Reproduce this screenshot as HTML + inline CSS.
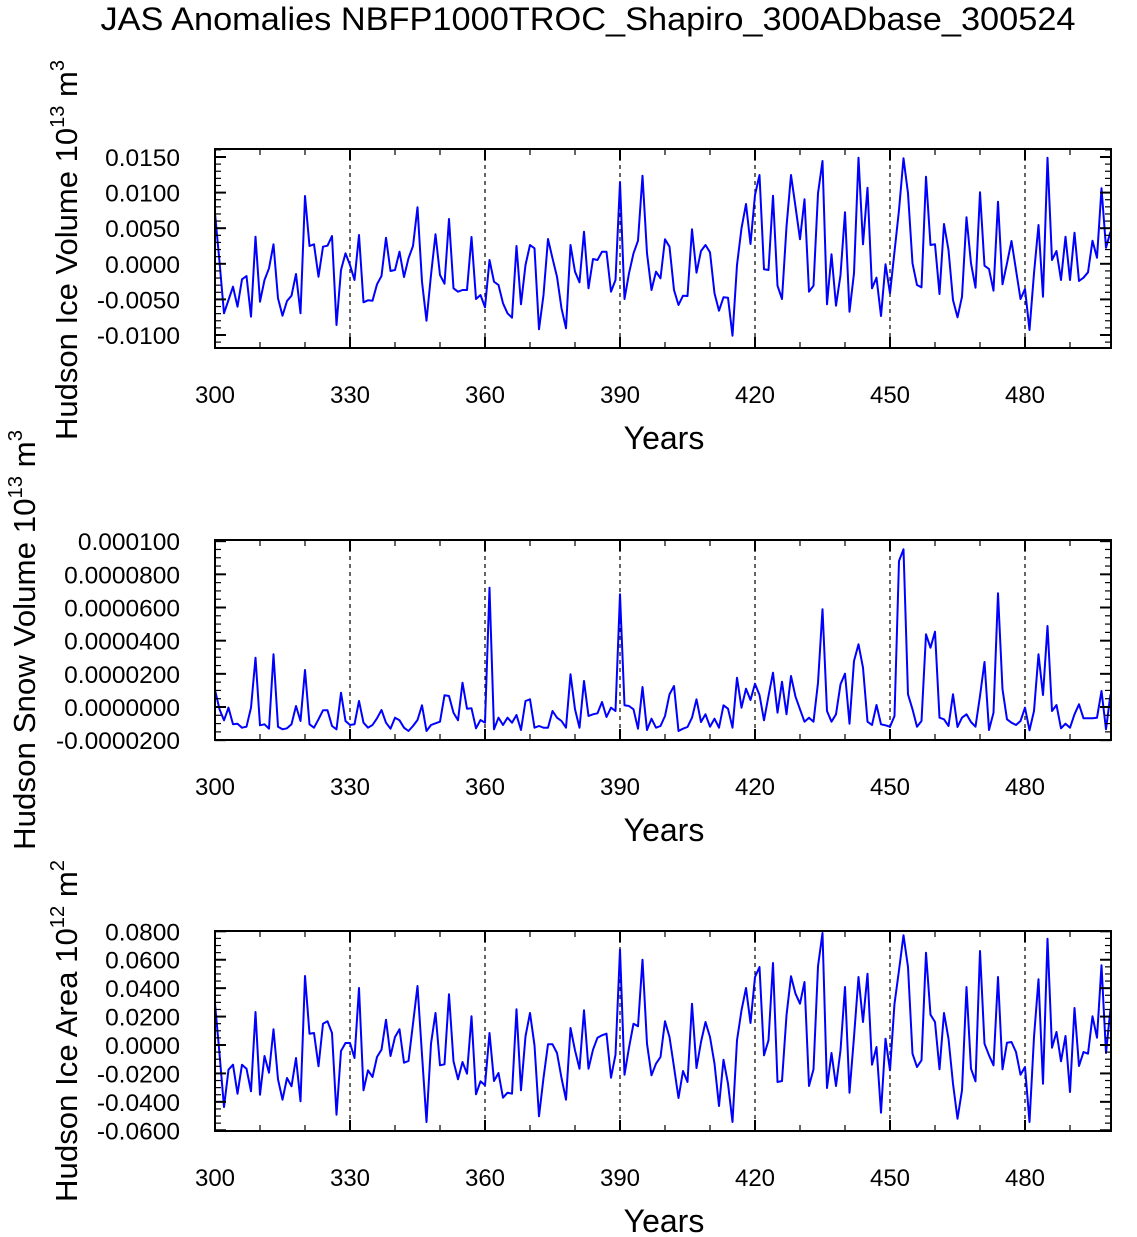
<!DOCTYPE html>
<html><head><meta charset="utf-8"><style>
html,body{margin:0;padding:0;background:#fff;}
svg{display:block;font-family:"Liberation Sans",Helvetica,Arial,sans-serif;}
</style></head><body>
<svg id="s" width="1137" height="1237" xmlns="http://www.w3.org/2000/svg">
<text x="588" y="30" font-size="32" text-anchor="middle" textLength="975" lengthAdjust="spacingAndGlyphs">JAS Anomalies NBFP1000TROC_Shapiro_300ADbase_300524</text>
</svg>
<script>
var NS="http://www.w3.org/2000/svg",S=document.getElementById('s');
function el(t,a,txt){var e=document.createElementNS(NS,t);for(var k in a)e.setAttribute(k,a[k]);if(txt!=null)e.textContent=txt;S.appendChild(e);return e;}
var X0=215,X1=1111;
function xp(y){return X0+(y-300)*4.5;}
var P=[
{top:149,bot:348,oy:145,zero:263.8,ppu:7120,maj:[0.015,0.01,0.005,0,-0.005,-0.01],labs:["0.0150","0.0100","0.0050","0.0000","-0.0050","-0.0100"],minStep:0.001,minLo:-0.012,minHi:0.016,
 title:"Hudson Ice Volume 10",sup:"13",unit:" m",usup:"3",tx:77,tc:250,tl:380,
 a:[205,350,505,465,425,485,403,393,515,275,470,405,370,298,460,512,468,452,387,505,153,303,298,395,305,302,273,540,375,325,360,405,270,472,466,467,418,393,278,378,375,320,396,340,303,187,410,527,390,268,390,416,222,430,440,435,435,276,462,450,487,345,410,420,475,505,518,303,478,360,300,310,553,450,282,340,395,490,550,300,380,412,260,430,342,345,320,320,440,405,112,462,385,325,287,92,325,435,380,
 400,283,305,435,480,452,453,253,383,318,300,322,445,497,457,458,572,360,250,177,297,150,90,373,375,152,422,462,245,90,185,283,163,440,422,145,48,478,328,482,390,202,500,385,38,298,128,430,398,513,358,445,320,195,40,145,355,420,427,95,300,298,447,237,315,465,517,455,217,355,428,142,362,372,437,170,418,355,288,375,462,432,555,385,240,455,38,345,318,405,275,405,263,408,398,382,287,338,130,308,260]},
{top:540,bot:740,oy:536,zero:707,ppu:1658333,maj:[0.0001,0.00008,0.00006,0.00004,0.00002,0,-0.00002],labs:["0.000100","0.0000800","0.0000600","0.0000400","0.0000200","0.0000000","-0.0000200"],minStep:0.000005,minLo:-0.00002,minHi:0.0001,
 title:"Hudson Snow Volume 10",sup:"13",unit:" m",usup:"3",tx:35,tc:640,tl:420,
 a:[462,520,553,515,565,563,575,572,515,365,568,565,578,355,572,580,577,565,510,555,402,565,575,550,523,523,570,580,470,555,567,565,495,560,575,567,547,522,560,578,545,553,575,585,570,552,508,585,567,562,557,478,480,530,553,440,518,517,577,552,560,155,580,545,567,545,560,537,582,495,490,575,570,575,575,525,545,555,575,415,520,575,435,540,535,532,498,543,515,525,175,508,510,520,578,453,582,548,575,
 570,540,475,450,585,578,573,545,490,558,535,572,548,575,508,518,575,425,515,458,492,443,477,553,480,410,530,437,535,420,482,520,557,545,557,440,220,525,557,535,445,413,563,375,325,395,557,567,507,565,568,572,540,75,40,475,520,572,555,295,335,287,545,550,570,475,573,545,535,558,572,480,378,582,530,172,460,550,560,567,555,515,583,525,355,477,270,525,507,577,563,575,535,505,547,547,547,545,465,580,475]},
{top:931,bot:1131,oy:927,zero:1045,ppu:1421,maj:[0.08,0.06,0.04,0.02,0,-0.02,-0.04,-0.06],labs:["0.0800","0.0600","0.0400","0.0200","0.0000","-0.0200","-0.0400","-0.0600"],minStep:0.005,minLo:-0.06,minHi:0.08,
 title:"Hudson Ice Area 10",sup:"12",unit:" m",usup:"2",tx:77,tc:1031,tl:342,
 a:[230,380,540,428,413,500,413,425,493,255,503,387,437,307,457,518,453,478,393,523,147,320,318,418,290,283,318,563,372,348,348,393,183,490,430,450,390,368,278,387,330,307,407,402,290,177,383,585,350,258,415,412,202,403,457,405,440,268,502,463,475,318,462,438,512,497,500,247,490,328,258,355,568,453,352,352,378,453,518,303,370,425,250,425,368,332,325,320,452,383,68,443,362,290,298,98,350,445,410,
 390,283,330,420,513,432,465,230,423,345,285,330,410,537,398,470,585,340,250,183,288,150,120,385,340,108,465,462,265,148,200,230,165,477,427,118,18,483,378,477,370,180,497,330,150,285,140,413,360,557,335,430,230,130,25,120,380,420,400,77,263,285,427,258,335,470,575,490,180,425,463,72,350,385,415,150,427,347,345,375,443,420,585,330,157,470,35,362,315,403,327,495,243,417,375,380,268,332,115,378,245]}
];
P.forEach(function(p){
  var yv=function(v){return p.zero-v*p.ppu;};
  for(var y=330;y<=480;y+=30)el('line',{x1:xp(y),x2:xp(y),y1:p.top,y2:p.bot,stroke:'#000','stroke-width':1.2,'stroke-dasharray':'4,4'});
  var pts=p.a.map(function(v,i){return (X0+4.5*i).toFixed(1)+','+(p.oy+v/3).toFixed(1);}).join(' ');
  el('polyline',{points:pts,fill:'none',stroke:'#0000ff','stroke-width':2,'stroke-linejoin':'round'});
  el('rect',{x:X0,y:p.top,width:X1-X0,height:p.bot-p.top,fill:'none',stroke:'#000','stroke-width':2});
  for(var y=300;y<=499;y+=10){var maj=(y%30==0),L=maj?11:6,x=xp(y);
    el('line',{x1:x,x2:x,y1:p.bot,y2:p.bot-L,stroke:'#000','stroke-width':maj?2:1.2});
    el('line',{x1:x,x2:x,y1:p.top,y2:p.top+L,stroke:'#000','stroke-width':maj?2:1.2});
    if(maj)el('text',{x:x,y:p.bot+55,'font-size':24,'text-anchor':'middle'},String(y));}
  var n=Math.round((p.minHi-p.minLo)/p.minStep);
  for(var k=0;k<=n;k++){var v=p.minLo+k*p.minStep,yy=yv(v);if(yy<p.top-0.5||yy>p.bot+0.5)continue;
    el('line',{x1:X0,x2:X0+6,y1:yy,y2:yy,stroke:'#000','stroke-width':1.2});
    el('line',{x1:X1,x2:X1-6,y1:yy,y2:yy,stroke:'#000','stroke-width':1.2});}
  p.maj.forEach(function(v,i){var yy=yv(v);
    el('line',{x1:X0,x2:X0+11,y1:yy,y2:yy,stroke:'#000','stroke-width':2});
    el('line',{x1:X1,x2:X1-11,y1:yy,y2:yy,stroke:'#000','stroke-width':2});
    el('text',{x:X0-35,y:yy+9,'font-size':24.5,'text-anchor':'end'},p.labs[i]);});
  el('text',{x:664,y:p.bot+101,'font-size':32,'text-anchor':'middle'},'Years');
  var t=el('text',{x:0,y:0,'font-size':31,'text-anchor':'middle',textLength:p.tl,lengthAdjust:'spacingAndGlyphs',transform:'translate('+p.tx+','+p.tc+') rotate(-90)'});
  t.innerHTML=p.title+'<tspan font-size="20" dy="-13">'+p.sup+'</tspan><tspan dy="13">'+p.unit+'</tspan><tspan font-size="20" dy="-13">'+p.usup+'</tspan>';
});
</script>
</body></html>
